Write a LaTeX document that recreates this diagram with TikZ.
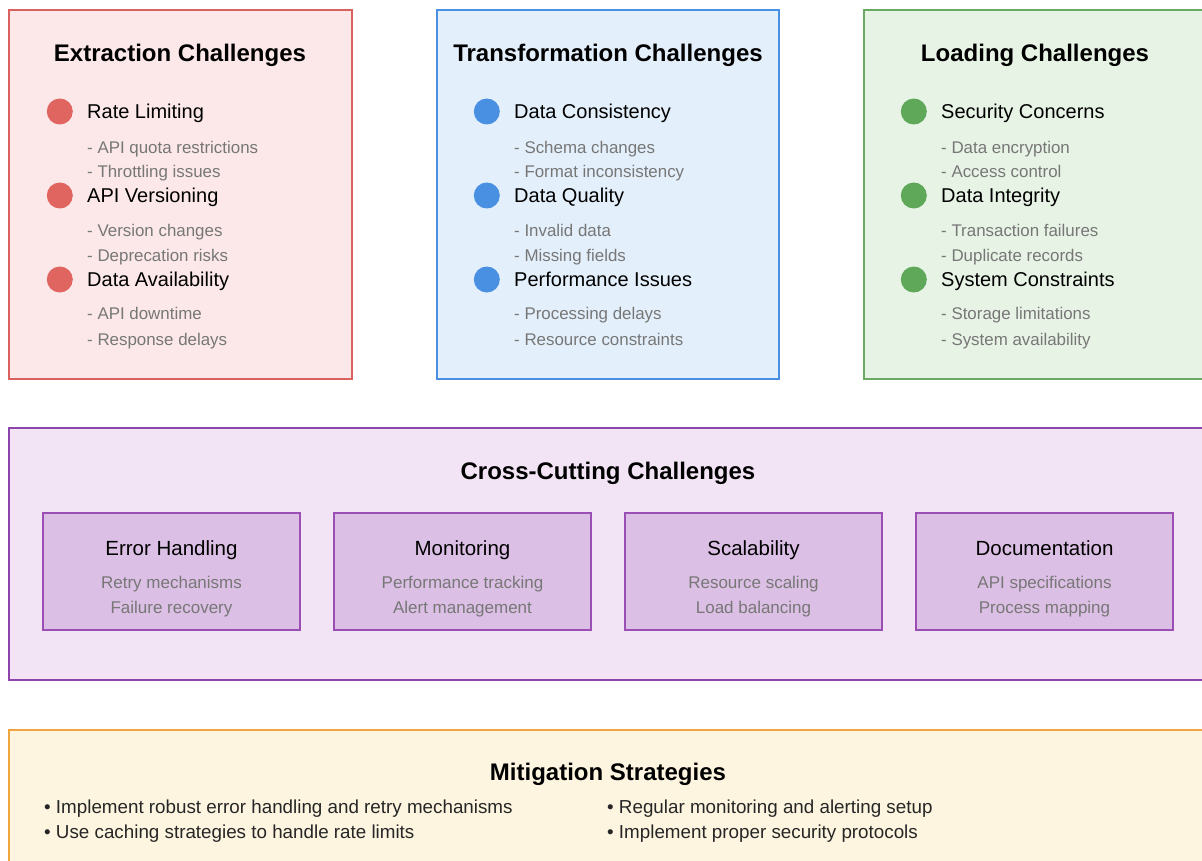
\documentclass[tikz,border=0pt]{standalone}
\usepackage{fontspec}
\setmainfont{Liberation Sans}
\usetikzlibrary{positioning}

\definecolor{extline}{HTML}{D9625E}
\definecolor{extfill}{HTML}{FCE8E8}
\definecolor{extdot}{HTML}{E06460}
\definecolor{trfline}{HTML}{4A90E2}
\definecolor{trffill}{HTML}{E3EFFB}
\definecolor{trfdot}{HTML}{4A90E2}
\definecolor{ldline}{HTML}{6AAA64}
\definecolor{ldfill}{HTML}{E7F3E5}
\definecolor{lddot}{HTML}{5FA85A}
\definecolor{ccline}{HTML}{8E44AD}
\definecolor{ccfill}{HTML}{F2E4F4}
\definecolor{cellfill}{HTML}{DCBFE4}
\definecolor{cellline}{HTML}{9B4FB4}
\definecolor{mitline}{HTML}{EFA640}
\definecolor{mitfill}{HTML}{FDF5E0}
\definecolor{subgray}{HTML}{777777}

% text height = cap height, so a node's centre sits on the middle of its capitals
\tikzset{
  panel/.style={line width=2.5pt},
  cell/.style={draw=cellline, fill=cellfill, line width=1.8pt, outer sep=0pt,
    minimum width=257pt, minimum height=117pt, inner sep=0pt},
  heading/.style={font=\bfseries\fontsize{24}{28}\selectfont, inner sep=0pt,
    text height=17.2pt, text depth=0pt},
  item/.style={anchor=west, inner sep=0pt, font=\fontsize{20}{24}\selectfont,
    text height=14.3pt, text depth=0pt},
  detail/.style={anchor=west, inner sep=0pt, text=subgray,
    font=\fontsize{16.9}{20}\selectfont, text height=12.1pt, text depth=0pt},
  dot/.style={circle, minimum size=26pt, inner sep=0pt, left=14pt of #1},
  celltitle/.style={inner sep=0pt, font=\fontsize{20.5}{24}\selectfont,
    text height=14.7pt, text depth=0pt},
  cellsub/.style={inner sep=0pt, text=subgray, font=\fontsize{17}{20}\selectfont,
    text height=12.2pt, text depth=0pt},
  tip/.style={anchor=west, inner sep=0pt, text=black!85,
    font=\fontsize{18.8}{22}\selectfont, text height=13.5pt, text depth=0pt}
}

\begin{document}
\begin{tikzpicture}[x=1pt, y=-1pt]
  \useasboundingbox (0,0) rectangle (1202,861);
  \clip (0,0) rectangle (1202,861);

  % three stage panels
  \draw[panel, draw=extline, fill=extfill] (9,10) rectangle (352,379);
  \draw[panel, draw=trfline, fill=trffill] (437,10) rectangle (779,379);
  \draw[panel, draw=ldline, fill=ldfill] (864,10) rectangle (1206,379);

  % extraction
  \node[heading] (exthead) at (180,52.5) {Extraction Challenges};
  \node[item] (ratelim) at (87,111.5) {Rate Limiting};
  \node[dot=ratelim, fill=extdot] (ratedot) {};
  \node[detail] (quota) at (87,147) {- API quota restrictions};
  \node[detail] (throttle) at (87,171.5) {- Throttling issues};
  \node[item] (apiver) at (87,195.5) {API Versioning};
  \node[dot=apiver, fill=extdot] (verdot) {};
  \node[detail] (verchg) at (87,230) {- Version changes};
  \node[detail] (deprec) at (87,255) {- Deprecation risks};
  \node[item] (avail) at (87,279.5) {Data Availability};
  \node[dot=avail, fill=extdot] (availdot) {};
  \node[detail] (downtime) at (87,313.5) {- API downtime};
  \node[detail] (respdel) at (87,339.5) {- Response delays};

  % transformation
  \node[heading] (trfhead) at (608,52.5) {Transformation Challenges};
  \node[item] (consist) at (514,111.5) {Data Consistency};
  \node[dot=consist, fill=trfdot] (consdot) {};
  \node[detail] (schema) at (514,147) {- Schema changes};
  \node[detail] (format) at (514,171.5) {- Format inconsistency};
  \node[item] (quality) at (514,195.5) {Data Quality};
  \node[dot=quality, fill=trfdot] (qualdot) {};
  \node[detail] (invalid) at (514,230) {- Invalid data};
  \node[detail] (missing) at (514,255) {- Missing fields};
  \node[item] (perf) at (514,279.5) {Performance Issues};
  \node[dot=perf, fill=trfdot] (perfdot) {};
  \node[detail] (procdel) at (514,313.5) {- Processing delays};
  \node[detail] (rescon) at (514,339.5) {- Resource constraints};

  % loading
  \node[heading] (ldhead) at (1035,52.5) {Loading Challenges};
  \node[item] (security) at (941,111.5) {Security Concerns};
  \node[dot=security, fill=lddot] (secdot) {};
  \node[detail] (encrypt) at (941,147) {- Data encryption};
  \node[detail] (access) at (941,171.5) {- Access control};
  \node[item] (integrity) at (941,195.5) {Data Integrity};
  \node[dot=integrity, fill=lddot] (intdot) {};
  \node[detail] (txfail) at (941,230) {- Transaction failures};
  \node[detail] (dupes) at (941,255) {- Duplicate records};
  \node[item] (syscon) at (941,279.5) {System Constraints};
  \node[dot=syscon, fill=lddot] (sysdot) {};
  \node[detail] (storage) at (941,313.5) {- Storage limitations};
  \node[detail] (sysavail) at (941,339.5) {- System availability};

  % cross-cutting row
  \draw[panel, draw=ccline, fill=ccfill] (9,428) rectangle (1207,680);
  \node[heading] (cchead) at (608,471) {Cross-Cutting Challenges};
  \node[cell] (errors) at (171.5,571.5) {};
  \node[cell, right=34pt of errors] (monitor) {};
  \node[cell, right=34pt of monitor] (scale) {};
  \node[cell, right=34pt of scale] (docs) {};
  \node[celltitle] at ([yshift=23.2pt]errors.center) {Error Handling};
  \node[celltitle] at ([yshift=23.2pt]monitor.center) {Monitoring};
  \node[celltitle] at ([yshift=23.2pt]scale.center) {Scalability};
  \node[celltitle] at ([yshift=23.2pt]docs.center) {Documentation};
  \node[cellsub] at ([yshift=-10.5pt]errors.center) {Retry mechanisms};
  \node[cellsub] at ([yshift=-35.5pt]errors.center) {Failure recovery};
  \node[cellsub] at ([yshift=-10.5pt]monitor.center) {Performance tracking};
  \node[cellsub] at ([yshift=-35.5pt]monitor.center) {Alert management};
  \node[cellsub] at ([yshift=-10.5pt]scale.center) {Resource scaling};
  \node[cellsub] at ([yshift=-35.5pt]scale.center) {Load balancing};
  \node[cellsub] at ([yshift=-10.5pt]docs.center) {API specifications};
  \node[cellsub] at ([yshift=-35.5pt]docs.center) {Process mapping};

  % mitigation strip
  \draw[panel, draw=mitline, fill=mitfill] (9,730) rectangle (1207,900);
  \node[heading] (mithead) at (608,772) {Mitigation Strategies};
  \node[tip] (retry) at (44,806.5) {\textbullet\ Implement robust error handling and retry mechanisms};
  \node[tip] (caching) at (44,831.5) {\textbullet\ Use caching strategies to handle rate limits};
  \node[tip] (alerting) at (607,806.5) {\textbullet\ Regular monitoring and alerting setup};
  \node[tip] (protocols) at (607,831.5) {\textbullet\ Implement proper security protocols};
\end{tikzpicture}
\end{document}
